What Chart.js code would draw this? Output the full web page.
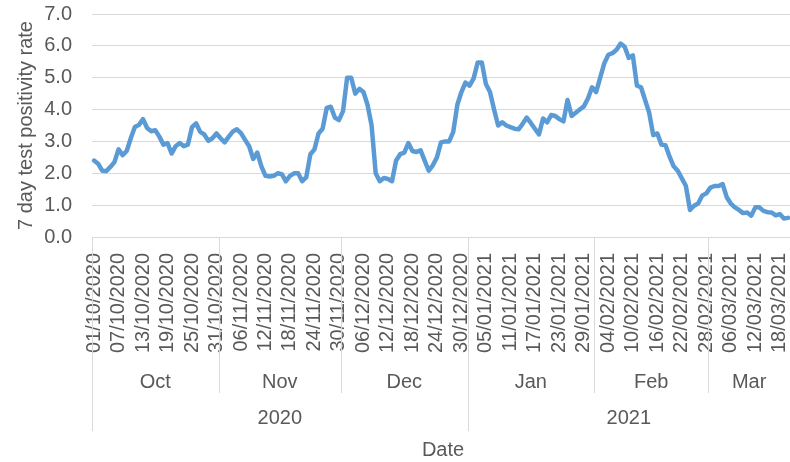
<!DOCTYPE html>
<html>
<head>
<meta charset="utf-8">
<script src="https://cdn.jsdelivr.net/npm/chart.js@4.4.1/dist/chart.umd.min.js"></script>
<style>
  html, body { margin: 0; padding: 0; background: #fff; }
  #wrap { width: 790px; height: 462px; position: relative; }
</style>
</head>
<body>
<div id="wrap"><canvas id="chart"></canvas></div>
<script>
// first day of the series and how many days it covers
const startDay = [2020, 9, 1]; // 01/10/2020 (month is 0-based)
const dayCount = 171;

// 7 day test positivity rate, one value per day
const positivity = [
  // Oct
  2.40, 2.30, 2.08, 2.07, 2.20, 2.35, 2.75, 2.57, 2.70, 3.10,
  3.45, 3.52, 3.70, 3.42, 3.32, 3.35, 3.15, 2.90, 2.95, 2.62,
  2.85, 2.95, 2.85, 2.90, 3.45, 3.57, 3.30, 3.22, 3.02, 3.10, 3.25,
  // Nov
  3.10, 2.97, 3.15, 3.31, 3.38, 3.26, 3.05, 2.85, 2.45, 2.65,
  2.22, 1.92, 1.90, 1.92, 2.00, 1.97, 1.75, 1.92, 2.00, 2.00,
  1.75, 1.88, 2.60, 2.75, 3.25, 3.40, 4.05, 4.09, 3.75, 3.67,
  // Dec
  3.95, 5.00, 5.00, 4.50, 4.65, 4.55, 4.15, 3.50, 2.00, 1.75,
  1.85, 1.82, 1.75, 2.40, 2.60, 2.65, 2.95, 2.70, 2.67, 2.72,
  2.40, 2.08, 2.25, 2.50, 2.97, 3.00, 3.00, 3.30, 4.15, 4.55, 4.85,
  // Jan
  4.75, 4.98, 5.48, 5.48, 4.80, 4.55, 4.00, 3.50, 3.60, 3.50,
  3.45, 3.40, 3.38, 3.55, 3.75, 3.58, 3.40, 3.22, 3.72, 3.60,
  3.83, 3.80, 3.70, 3.63, 4.30, 3.80, 3.90, 4.00, 4.10, 4.35, 4.70,
  // Feb
  4.55, 5.00, 5.45, 5.72, 5.77, 5.88, 6.07, 5.97, 5.62, 5.70,
  4.75, 4.70, 4.30, 3.90, 3.20, 3.25, 2.90, 2.88, 2.52, 2.22,
  2.08, 1.84, 1.60, 0.85, 0.98, 1.05, 1.30, 1.37,
  // Mar
  1.55, 1.60, 1.60, 1.66, 1.25, 1.05, 0.93, 0.85, 0.75, 0.77,
  0.67, 0.93, 0.93, 0.82, 0.78, 0.77, 0.68, 0.72, 0.58, 0.60
];

const monthNames = ['Jan','Feb','Mar','Apr','May','Jun','Jul','Aug','Sep','Oct','Nov','Dec'];
const labelEvery = 6; // a date label every 6th day

const pad = n => String(n).padStart(2, '0');
const dates = [];
const monthOf = [];
const yearOf = [];
for (let i = 0; i < dayCount; i++) {
  const d = new Date(startDay[0], startDay[1], startDay[2] + i);
  dates.push(pad(d.getDate()) + '/' + pad(d.getMonth() + 1) + '/' + d.getFullYear());
  monthOf.push(monthNames[d.getMonth()]);
  yearOf.push(String(d.getFullYear()));
}

const textColor = '#595959';
const lineColor = '#d9d9d9';
Chart.defaults.font.family = '"Liberation Sans", Arial, sans-serif';
Chart.defaults.font.size = 20;
Chart.defaults.color = textColor;

// runs of equal keys -> [{name, start, end}]
function groups(keys) {
  const out = [];
  keys.forEach((k, i) => {
    if (!out.length || out[out.length - 1].name !== k) out.push({ name: k, start: i, end: i });
    else out[out.length - 1].end = i;
  });
  return out;
}

// month / year rows under the date labels, like a multi level category axis
const groupAxis = {
  id: 'groupAxis',
  afterDraw(chart) {
    const x = chart.scales.x;
    const ctx = chart.ctx;
    const half = (x.getPixelForValue(1) - x.getPixelForValue(0)) / 2;
    const left = i => x.getPixelForValue(i) - half;
    const right = i => x.getPixelForValue(i) + half;
    const top = x.top;

    ctx.save();
    ctx.strokeStyle = lineColor;
    ctx.lineWidth = 1;
    ctx.fillStyle = textColor;
    ctx.font = '20px "Liberation Sans", Arial, sans-serif';
    ctx.textAlign = 'center';
    ctx.textBaseline = 'middle';

    groups(monthOf).forEach(g => {
      const a = Math.round(left(g.start)) + 0.5;
      ctx.beginPath();
      ctx.moveTo(a, top);
      ctx.lineTo(a, top + 156);
      ctx.stroke();
      ctx.fillText(g.name, (left(g.start) + right(g.end)) / 2, top + 145);
    });
    groups(yearOf).forEach(g => {
      const a = Math.round(left(g.start)) + 0.5;
      ctx.beginPath();
      ctx.moveTo(a, top);
      ctx.lineTo(a, top + 194);
      ctx.stroke();
      ctx.fillText(g.name, (left(g.start) + right(g.end)) / 2, top + 181);
    });
    ctx.fillText('Date', (x.left + x.right) / 2 + 2, top + 213);
    ctx.restore();
  }
};

new Chart(document.getElementById('chart'), {
  type: 'line',
  data: {
    labels: dates,
    datasets: [{
      label: '7 day test positivity rate',
      data: positivity,
      borderColor: '#5b9bd5',
      borderWidth: 4.5,
      pointRadius: 0,
      tension: 0,
      borderJoinStyle: 'round',
      borderCapStyle: 'round'
    }]
  },
  options: {
    responsive: true,
    maintainAspectRatio: false,
    animation: false,
    layout: { padding: { top: 14, left: 0, right: 0, bottom: 0 } },
    plugins: { legend: { display: false }, tooltip: { enabled: false } },
    scales: {
      x: {
        offset: true,
        grid: { display: false, drawTicks: false },
        border: { display: true, color: lineColor, width: 1 },
        ticks: {
          autoSkip: false,
          minRotation: 90,
          maxRotation: 90,
          padding: 16,
          callback: (v, i) => (i % labelEvery === 0 ? dates[i] : '')
        },
        afterFit: s => { s.height = 225; s.paddingLeft = 0; s.paddingRight = 0; }
      },
      y: {
        min: 0,
        max: 7,
        grid: { color: lineColor, lineWidth: 1, drawTicks: false },
        border: { display: false },
        ticks: { stepSize: 1, padding: 20, callback: v => v.toFixed(1) },
        title: {
          display: true,
          text: '7 day test positivity rate',
          padding: { top: 14, bottom: 0 }
        },
        afterFit: s => { s.width = 92; s.paddingTop = 0; s.paddingBottom = 0; }
      }
    }
  },
  plugins: [groupAxis]
});
</script>
</body>
</html>
